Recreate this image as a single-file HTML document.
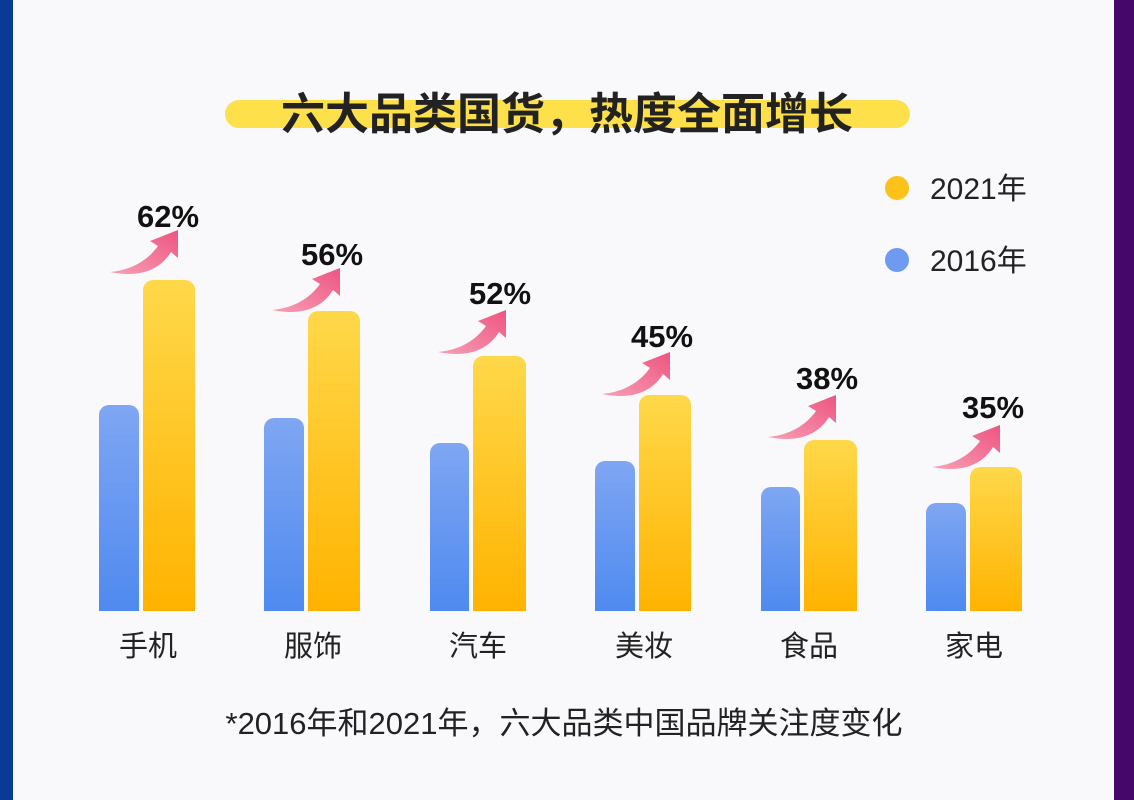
<!DOCTYPE html>
<html><head><meta charset="utf-8"><style>
body{margin:0;width:1134px;height:800px;overflow:hidden;background:#f9f9fc;font-family:"Liberation Sans","Noto Sans CJK SC",sans-serif;}
</style></head><body>
<svg width="1134" height="800" xmlns="http://www.w3.org/2000/svg" style="position:absolute;left:0;top:0">
<defs>
<linearGradient id="y" x1="0" y1="0" x2="0" y2="1"><stop offset="0" stop-color="#ffd84a"/><stop offset="1" stop-color="#ffb300"/></linearGradient>
<linearGradient id="b" x1="0" y1="0" x2="0" y2="1"><stop offset="0" stop-color="#7fa6f2"/><stop offset="1" stop-color="#4f8af0"/></linearGradient>
<linearGradient id="p" x1="0" y1="1" x2="1" y2="0"><stop offset="0" stop-color="#f7a0b5"/><stop offset="1" stop-color="#ee5480"/></linearGradient>
<g id="arr"><path d="M0,42 C22,40 38,30 48,16 L40,11 L68,0 L68,28 L61,22 C50,40 30,48 0,42 Z" fill="url(#p)"/></g>
</defs>
<rect x="0" y="0" width="13" height="800" fill="#0a3a98"/>
<rect x="1114" y="0" width="20" height="800" fill="#46076a"/>
<rect x="225" y="100" width="685" height="28" rx="14" fill="#fde04a"/>
<text x="567" y="129" font-size="44" font-weight="bold" text-anchor="middle" fill="#222">六大品类国货，热度全面增长</text>
<circle cx="897" cy="188" r="12" fill="#fcc21a"/>
<text x="930" y="199" font-size="30" fill="#222">2021年</text>
<circle cx="897" cy="260" r="12" fill="#6e9af0"/>
<text x="930" y="271" font-size="30" fill="#222">2016年</text>
<g>
<path d="M99,611 V415 a10,10 0 0 1 10,-10 h20 a10,10 0 0 1 10,10 V611Z" fill="url(#b)"/>
<path d="M143,611 V290 a10,10 0 0 1 10,-10 h32 a10,10 0 0 1 10,10 V611Z" fill="url(#y)"/>
<path d="M264,611 V428 a10,10 0 0 1 10,-10 h20 a10,10 0 0 1 10,10 V611Z" fill="url(#b)"/>
<path d="M308,611 V321 a10,10 0 0 1 10,-10 h32 a10,10 0 0 1 10,10 V611Z" fill="url(#y)"/>
<path d="M430,611 V453 a10,10 0 0 1 10,-10 h19 a10,10 0 0 1 10,10 V611Z" fill="url(#b)"/>
<path d="M473,611 V366 a10,10 0 0 1 10,-10 h33 a10,10 0 0 1 10,10 V611Z" fill="url(#y)"/>
<path d="M595,611 V471 a10,10 0 0 1 10,-10 h20 a10,10 0 0 1 10,10 V611Z" fill="url(#b)"/>
<path d="M639,611 V405 a10,10 0 0 1 10,-10 h32 a10,10 0 0 1 10,10 V611Z" fill="url(#y)"/>
<path d="M761,611 V497 a10,10 0 0 1 10,-10 h19 a10,10 0 0 1 10,10 V611Z" fill="url(#b)"/>
<path d="M804,611 V450 a10,10 0 0 1 10,-10 h33 a10,10 0 0 1 10,10 V611Z" fill="url(#y)"/>
<path d="M926,611 V513 a10,10 0 0 1 10,-10 h20 a10,10 0 0 1 10,10 V611Z" fill="url(#b)"/>
<path d="M970,611 V477 a10,10 0 0 1 10,-10 h32 a10,10 0 0 1 10,10 V611Z" fill="url(#y)"/>
</g>
<use href="#arr" x="110" y="230"/>
<use href="#arr" x="272" y="268"/>
<use href="#arr" x="438" y="310"/>
<use href="#arr" x="602" y="352"/>
<use href="#arr" x="768" y="395"/>
<use href="#arr" x="932" y="425"/>
<g font-size="31" font-weight="bold" fill="#111">
<text x="137" y="227">62%</text>
<text x="301" y="265">56%</text>
<text x="469" y="304">52%</text>
<text x="631" y="347">45%</text>
<text x="796" y="389">38%</text>
<text x="962" y="418">35%</text>
</g>
<g font-size="29" fill="#222" text-anchor="middle">
<text x="148" y="656">手机</text>
<text x="313" y="656">服饰</text>
<text x="478" y="656">汽车</text>
<text x="644" y="656">美妆</text>
<text x="809" y="656">食品</text>
<text x="974" y="656">家电</text>
</g>
<text x="564" y="734" font-size="31" fill="#222" text-anchor="middle">*2016年和2021年，六大品类中国品牌关注度变化</text>
</svg>
</body></html>
